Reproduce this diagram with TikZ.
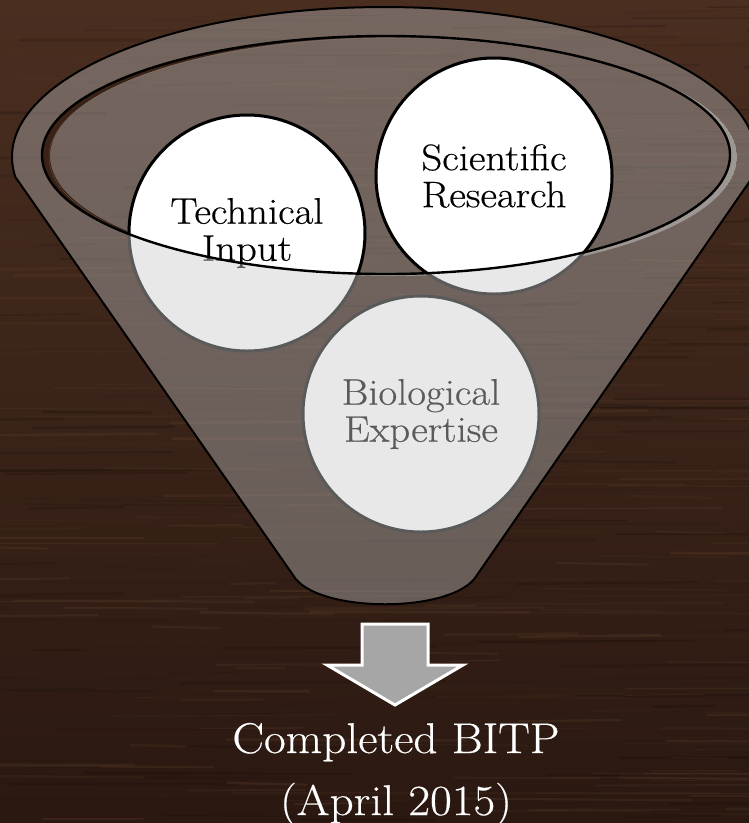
\documentclass[tikz,border=0pt]{standalone}
\usepackage{fontspec}
\newfontfamily\diagfont{Latin Modern Roman}[FakeBold=0.45, FakeStretch=1.1]
\definecolor{woodtop}{HTML}{4A2E20}
\definecolor{woodbot}{HTML}{2A1811}
\definecolor{woodlight}{HTML}{66462F}
\definecolor{wooddark}{HTML}{160C07}
\definecolor{glass}{HTML}{AAAAAA}
\definecolor{behind}{HTML}{E8E8E8}
\definecolor{behindline}{HTML}{5A5A5A}
\definecolor{arrowgray}{HTML}{A6A6A6}
\definecolor{lipdark}{HTML}{3A2216}
\definecolor{liplight}{HTML}{9C9792}
\tikzset{
  ballback/.style={circle, minimum size=236pt, inner sep=0pt, fill=behind, draw=behindline,
    line width=3pt, text=behindline, align=center, font=\diagfont\fontsize{37}{37}\selectfont},
  ballfront/.style={circle, minimum size=236pt, inner sep=0pt, fill=white, draw=black,
    line width=3pt, text=black, align=center, font=\diagfont\fontsize{37}{37}\selectfont},
  caption/.style={anchor=base, text=white, inner sep=0pt, font=\diagfont\fontsize{43}{62}\selectfont},
  funnelline/.style={draw=black, line width=2pt, line join=round},
}
\begin{document}
\begin{tikzpicture}[x=1pt,y=1pt]
\useasboundingbox (0,0) rectangle (749,-823);
% wood background
\shade[top color=woodtop, bottom color=woodbot] (0,0) rectangle (749,-823);
\pgfmathsetseed{12}
\foreach \i in {1,...,520}{
  \pgfmathsetmacro{\xa}{rnd*820-60}
  \pgfmathsetmacro{\ya}{rnd*823}
  \pgfmathsetmacro{\len}{40+rnd*230}
  \pgfmathtruncatemacro{\sh}{rnd*100}
  \pgfmathsetmacro{\lw}{0.6+rnd*2.2}
  \pgfmathsetmacro{\dy}{rnd*4-2}
  \draw[woodlight!\sh!wooddark, line width=\lw pt, opacity=0.28, line cap=round] (\xa,-\ya) -- ++(\len,\dy);
}
% funnel body
\coordinate (lc) at (15.35,-177);
\coordinate (rc) at (752.65,-177);
\coordinate (lb) at (293,-575);
\coordinate (rb) at (477,-575);
\fill[glass, opacity=0.46] (lc) arc[start angle=187.66, end angle=-7.66, x radius=372, y radius=150]
  -- (rb) .. controls (455,-614) and (315,-614) .. (lb) -- cycle;
\draw[funnelline] (lc) arc[start angle=187.66, end angle=-7.66, x radius=372, y radius=150]
  -- (rb) .. controls (455,-614) and (315,-614) .. (lb) -- cycle;
% lip of the opening
\begin{scope}
  \clip (386,-155) ellipse [x radius=344, y radius=119];
  \fill[lipdark, even odd rule] (386,-155) ellipse [x radius=344, y radius=119]
     (394,-156) ellipse [x radius=344, y radius=119];
\end{scope}
\begin{scope}
  \clip (393,-157) ellipse [x radius=344, y radius=119];
  \fill[liplight, even odd rule] (386,-155) ellipse [x radius=344, y radius=119]
     (393,-157) ellipse [x radius=344, y radius=119];
\end{scope}
% balls seen through the funnel
\node[ballback] (tech) at (247,-233) {Technical\\Input};
\node[ballback] (sci) at (494,-176) {Scientific\\Research};
\node[ballback] (bio) at (421,-414) {Biological\\Expertise};
% balls in the opening
\begin{scope}
  \clip (386,-155) ellipse [x radius=344, y radius=119];
  \node[ballfront] (techF) at (247,-233) {Technical\\Input};
  \node[ballfront] (sciF) at (494,-176) {Scientific\\Research};
\end{scope}
% rim of the opening
\draw[black, line width=2.4pt] (386,-155) ellipse [x radius=344, y radius=119];
% arrow
\draw[fill=arrowgray, draw=white, line width=3pt, line join=miter]
  (362,-624) -- (428,-624) -- (428,-665) -- (463,-665) -- (395,-705) -- (327,-665) -- (362,-665) -- cycle;
% caption
\node[caption] (done) at (396,-753) {Completed BITP};
\node[caption] (date) at (396,-815) {(April 2015)};
\end{tikzpicture}
\end{document}
